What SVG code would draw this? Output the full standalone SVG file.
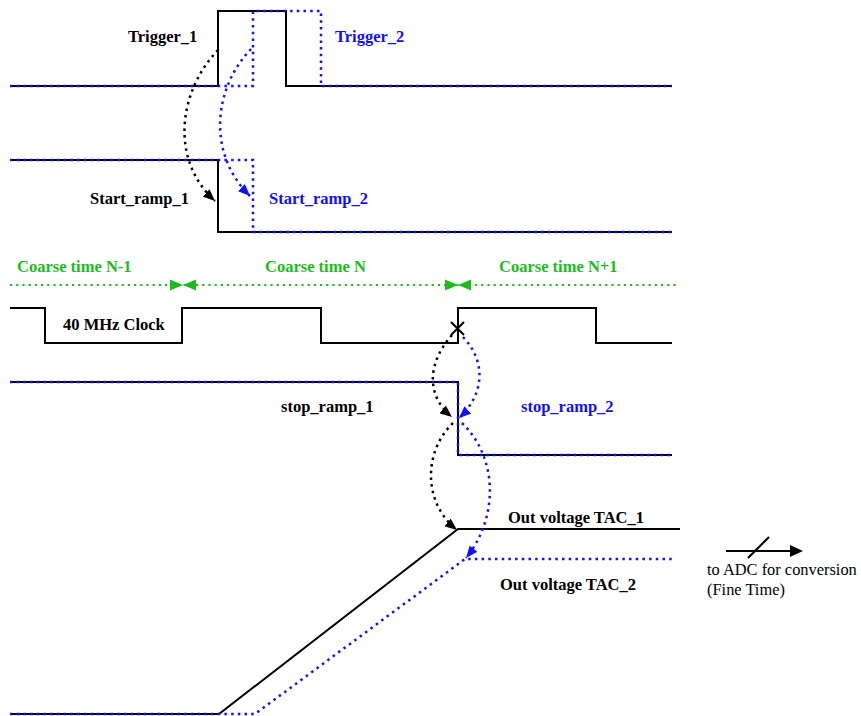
<svg xmlns="http://www.w3.org/2000/svg" width="861" height="716" viewBox="0 0 861 716">
<style>
.bk{fill:none;stroke:#000;stroke-width:2;stroke-linejoin:miter}
.bl{fill:none;stroke:#1010ff;stroke-width:2.5;stroke-dasharray:2.5 4.2}
.gr{fill:none;stroke:#1cbc1c;stroke-width:2.2;stroke-dasharray:2.2 4}
.cb{fill:none;stroke:#000;stroke-width:2.5;stroke-dasharray:2.5 4.2}
.cu{fill:none;stroke:#1010ff;stroke-width:2.5;stroke-dasharray:2.5 4.2}
.t{font-family:"Liberation Serif","Times New Roman",serif;font-weight:bold;font-size:16.5px}
.tk{fill:#000}
.tb{fill:#1010ff}
.tg{fill:#1cbc1c}
.tn{font-family:"Liberation Serif","Times New Roman",serif;font-size:16.4px;fill:#000}
</style>
<defs>
<marker id="ak" viewBox="0 0 12 10" refX="12" refY="5" markerWidth="12" markerHeight="10" markerUnits="userSpaceOnUse" orient="auto"><path d="M0,0 L12,5 L0,10 Z" fill="#000"/></marker>
<marker id="au" viewBox="0 0 12 10" refX="12" refY="5" markerWidth="12" markerHeight="10" markerUnits="userSpaceOnUse" orient="auto"><path d="M0,0 L12,5 L0,10 Z" fill="#1010ff"/></marker>
</defs>

<g id="trigger">
<path class="bk" d="M10,86 H218 V11 H286 V86 H672"/>
<path class="bl" d="M10,86 H253 V11 H321 V86 H672"/>
<text class="t tk" x="128" y="42">Trigger_1</text>
<text class="t tb" x="335" y="42">Trigger_2</text>
</g>

<g id="start_ramp">
<path class="bk" d="M10,160 H218 V232 H672"/>
<path class="bl" d="M10,160 H253 V232 H672"/>
<text class="t tk" x="90" y="204">Start_ramp_1</text>
<text class="t tb" x="269" y="204">Start_ramp_2</text>
</g>

<g id="coarse_time">
<path class="gr" d="M10,285 H678"/>
<path d="M170,279.5 L183,285 L170,290.5 Z M196,279.5 L183,285 L196,290.5 Z" fill="#1cbc1c"/>
<path d="M445,279.5 L458,285 L445,290.5 Z M471,279.5 L458,285 L471,290.5 Z" fill="#1cbc1c"/>
<text class="t tg" x="17" y="272">Coarse time N-1</text>
<text class="t tg" x="265" y="272">Coarse time N</text>
<text class="t tg" x="499" y="272">Coarse time N+1</text>
</g>

<g id="clock">
<path class="bk" d="M10,308 H45 V343 H182 V308 H321 V343 H458 V308 H596 V343 H672"/>
<path d="M451,322 L464,335 M451,335 L464,322" stroke="#000" stroke-width="2" fill="none"/>
<text class="t tk" x="63" y="330">40 MHz Clock</text>
</g>

<g id="stop_ramp">
<path class="bk" d="M10,382 H458 V455 H672"/>
<path class="bl" d="M10,382 H458 V455 H672"/>
<text class="t tk" x="281" y="412">stop_ramp_1</text>
<text class="t tb" x="521" y="412">stop_ramp_2</text>
</g>

<g id="out_voltage">
<path class="bk" d="M10,714 H219 L458,529 H680"/>
<path class="bl" d="M10,714 H255 L465,559 H673"/>
<text class="t tk" x="508" y="523">Out voltage TAC_1</text>
<text class="t tk" x="500" y="590">Out voltage TAC_2</text>
</g>

<g id="adc">
<path d="M726,551 H792" stroke="#000" stroke-width="2" fill="none"/>
<path d="M790,545 L803,551 L790,557 Z" fill="#000"/>
<path d="M748,558 L769,537" stroke="#000" stroke-width="2" fill="none"/>
<text class="tn" x="707" y="575">to ADC for conversion</text>
<text class="tn" x="707" y="595">(Fine Time)</text>
</g>

<g id="connectors">
<path class="cb" d="M218,50 C178,92 170,160 215,201" marker-end="url(#ak)"/>
<path class="cu" d="M251,49 C212,90 208,155 250,196" marker-end="url(#au)"/>
<path class="cb" d="M452,335 C428,362 425,395 452,417" marker-end="url(#ak)"/>
<path class="cu" d="M463,337 C487,362 484,395 459,418" marker-end="url(#au)"/>
<path class="cb" d="M453,423 C423,452 423,503 457,530" marker-end="url(#ak)"/>
<path class="cu" d="M462,423 C500,460 497,520 466,558" marker-end="url(#au)"/>
</g>
</svg>
